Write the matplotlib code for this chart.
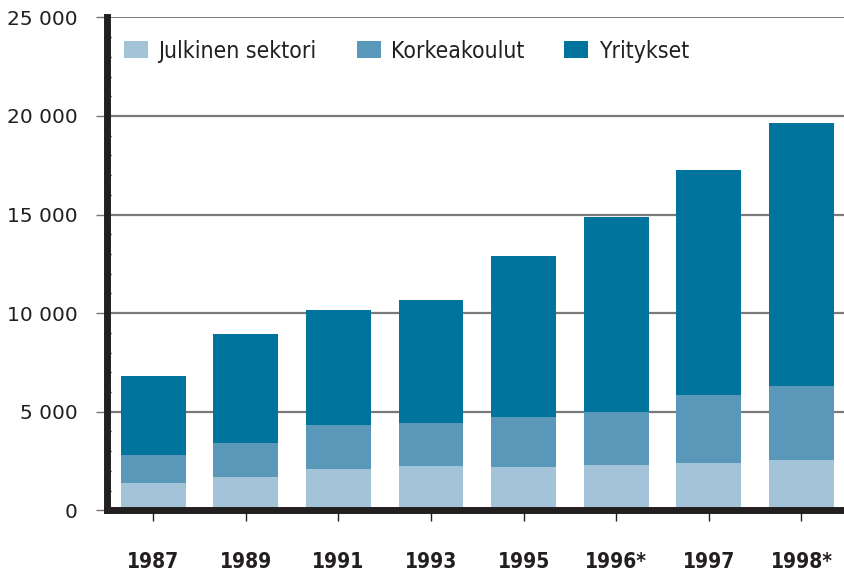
import matplotlib.pyplot as plt
import numpy as np
from matplotlib.ticker import MultipleLocator, FuncFormatter

# values (stacked components)
years = ['1987', '1989', '1991', '1993', '1995', '1996*', '1997', '1998*']
julkinen = [1390, 1690, 2100, 2250, 2200, 2300, 2400, 2550]
korkeakoulut = [1420, 1720, 2230, 2180, 2530, 2690, 3450, 3760]
yritykset = [3990, 5530, 5840, 6240, 8170, 9890, 11420, 13350]

c_light = '#A3C3D8'
c_mid = '#5A98BA'
c_dark = '#00749C'

fig = plt.figure(figsize=(8.45, 5.73), dpi=100)
ax = fig.add_axes([107 / 845, 62.7 / 573, 738 / 845, 492.9 / 573])

x = np.arange(len(years))
w = 0.70
bottom2 = np.array(julkinen)
bottom3 = bottom2 + np.array(korkeakoulut)
ax.bar(x, julkinen, w, color=c_light, label='Julkinen sektori', zorder=3)
ax.bar(x, korkeakoulut, w, bottom=bottom2, color=c_mid, label='Korkeakoulut', zorder=3)
ax.bar(x, yritykset, w, bottom=bottom3, color=c_dark, label='Yritykset', zorder=3)

ax.set_xlim(-0.5, 7.47)
ax.set_ylim(0, 25000)

# gridlines
for v in range(5000, 20001, 5000):
    ax.axhline(v, color='#7a7a7a', lw=1.6, zorder=1)
ax.axhline(25000, color='#555555', lw=1.1, zorder=1)

for s in ['top', 'right']:
    ax.spines[s].set_visible(False)
for s in ['left', 'bottom']:
    ax.spines[s].set_linewidth(5)
    ax.spines[s].set_color('#231f20')
    ax.spines[s].set_zorder(4)

ax.yaxis.set_major_locator(MultipleLocator(5000))
ax.yaxis.set_minor_locator(MultipleLocator(1000))
ax.yaxis.set_major_formatter(FuncFormatter(lambda v, p: f'{int(v):,}'.replace(',', ' ')))
ax.tick_params(axis='y', which='major', direction='out', length=8, width=1,
               color='#777777', pad=13, labelsize=14.5, labelcolor='#231f20')
ax.tick_params(axis='y', which='minor', direction='in', length=3, width=1, color='#231f20')
for lbl in ax.get_yticklabels():
    lbl.set_fontweight('medium')

ax.set_xticks(x)
ax.set_xticklabels(years, fontsize=15, fontweight='bold', fontstretch='condensed', color='#231f20')
ax.tick_params(axis='x', which='major', direction='out', length=8, width=1,
               color='#231f20', pad=22)

leg = ax.legend(ncol=3, frameon=False, loc='upper left', bbox_to_anchor=(-0.005, 0.997),
                prop={'size': 16.5, 'stretch': 'condensed'},
                handlelength=1.05, handleheight=0.8, handletextpad=0.45,
                columnspacing=1.75)
for t in leg.get_texts():
    t.set_color('#231f20')

plt.savefig('out.png', dpi=100)
